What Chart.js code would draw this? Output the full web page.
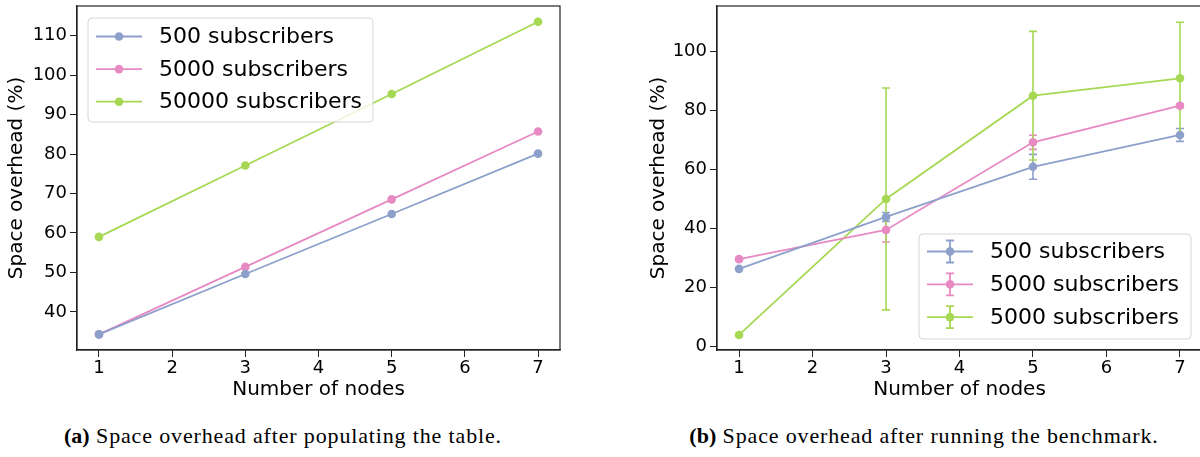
<!DOCTYPE html>
<html lang="en">
<head>
  <meta charset="UTF-8">
  <title>Space overhead</title>
  <script src="https://cdn.jsdelivr.net/npm/chart.js"></script>
  <style>
    body {
      margin: 0;
      width: 1200px;
      height: 457px;
      overflow: hidden;
      background: #fff;
      position: relative;
      font-family: 'DejaVu Sans', sans-serif;
    }
    .panel { position: absolute; top: 0; height: 410px; }
    #left { left: 0; width: 580px; }
    #right { left: 642px; width: 578px; }
    .caption {
      position: absolute;
      top: 423px;
      width: 600px;
      text-align: center;
      font-family: 'Liberation Serif', serif;
      font-size: 22px;
      letter-spacing: 0.85px;
      color: #000;
      white-space: nowrap;
    }
    .caption b { font-weight: bold; letter-spacing: 0; }
  </style>
</head>
<body>
  <div class="panel" id="left"><canvas id="popChart" width="580" height="410"></canvas></div>
  <div class="panel" id="right"><canvas id="benchChart" width="578" height="410"></canvas></div>
  <div class="caption" style="left:-17px"><b>(a)</b> Space overhead after populating the table.</div>
  <div class="caption" style="left:624px"><b>(b)</b> Space overhead after running the benchmark.</div>

  <script>
    // x values (number of nodes)
    const nodes = [1, 3, 5, 7];
    const xTicks = [1, 2, 3, 4, 5, 6, 7];

    // (a) after populating the table
    const popLabels = ['500 subscribers', '5000 subscribers', '50000 subscribers'];
    const pop500 = [34.3, 49.6, 64.8, 80.1];
    const pop5000 = [34.3, 51.4, 68.5, 85.7];
    const pop50000 = [59.0, 77.1, 95.2, 113.5];

    // (b) after running the benchmark (mean + error)
    const benchLabels = ['500 subscribers', '5000 subscribers', '5000 subscribers'];
    const bench500 = [26.4, 44.0, 61.0, 71.8];
    const bench500Err = [0.4, 1.5, 4.2, 2.2];
    const bench5000 = [29.7, 39.6, 69.3, 81.7];
    const bench5000Err = [0.5, 4.1, 2.4, 0.6];
    const bench50000 = [4.0, 50.1, 85.1, 91.0];
    const bench50000Err = [0.3, 37.6, 21.8, 19.0];

    const popTicks = [40, 50, 60, 70, 80, 90, 100, 110];
    const benchTicks = [0, 20, 40, 60, 80, 100];

    const colors = ['#8da0cb', '#e78ac3', '#a6d854'];

    const toPoints = arr => nodes.map((n, i) => ({ x: n, y: arr[i] }));

    function makeDataset(label, arr, color, errors) {
      return {
        label: label,
        data: toPoints(arr),
        errors: errors,
        borderColor: color,
        backgroundColor: color,
        borderWidth: 1.8,
        pointRadius: 4.3,
        pointHoverRadius: 4.3,
        pointBorderWidth: 0,
        tension: 0
      };
    }

    // draws the box round the plot area
    const frame = {
      id: 'frame',
      afterDatasetsDraw(chart) {
        const { ctx, chartArea: a } = chart;
        ctx.save();
        ctx.strokeStyle = '#222';
        ctx.lineWidth = 1.2;
        ctx.strokeRect(a.left, a.top, a.right - a.left, a.bottom - a.top);
        ctx.restore();
      }
    };

    // vertical error bars with caps, under the lines
    const errorBars = {
      id: 'errorBars',
      beforeDatasetsDraw(chart) {
        const { ctx, scales: { x, y } } = chart;
        chart.data.datasets.forEach(ds => {
          if (!ds.errors) return;
          ctx.save();
          ctx.strokeStyle = ds.borderColor;
          ctx.lineWidth = 1.6;
          ds.data.forEach((p, i) => {
            const e = ds.errors[i];
            const px = x.getPixelForValue(p.x);
            const top = y.getPixelForValue(p.y + e);
            const bot = y.getPixelForValue(p.y - e);
            ctx.beginPath();
            ctx.moveTo(px, top); ctx.lineTo(px, bot);
            ctx.moveTo(px - 4, top); ctx.lineTo(px + 4, top);
            ctx.moveTo(px - 4, bot); ctx.lineTo(px + 4, bot);
            ctx.stroke();
          });
          ctx.restore();
        });
      }
    };

    // matplotlib-like legend box inside the axes
    const boxLegend = {
      id: 'boxLegend',
      afterDatasetsDraw(chart, args, opts) {
        const { ctx } = chart;
        const { left, top, width, height, firstRow, rowGap, errorbar } = opts;
        ctx.save();
        ctx.beginPath();
        ctx.roundRect(left, top, width, height, 4);
        ctx.fillStyle = 'rgba(255,255,255,0.8)';
        ctx.fill();
        ctx.strokeStyle = '#d6d6d6';
        ctx.lineWidth = 1;
        ctx.stroke();
        ctx.font = '22px "DejaVu Sans"';
        ctx.textBaseline = 'middle';
        chart.data.datasets.forEach((ds, i) => {
          const cy = top + firstRow + i * rowGap;
          const x0 = left + 8;
          const x1 = left + 54;
          const cx = (x0 + x1) / 2;
          ctx.strokeStyle = ds.borderColor;
          ctx.lineWidth = 1.8;
          ctx.beginPath();
          ctx.moveTo(x0, cy); ctx.lineTo(x1, cy);
          if (errorbar) {
            ctx.moveTo(cx, cy - 11); ctx.lineTo(cx, cy + 11);
            ctx.moveTo(cx - 4, cy - 11); ctx.lineTo(cx + 4, cy - 11);
            ctx.moveTo(cx - 4, cy + 11); ctx.lineTo(cx + 4, cy + 11);
          }
          ctx.stroke();
          ctx.fillStyle = ds.backgroundColor;
          ctx.beginPath();
          ctx.arc(cx, cy, 4.3, 0, Math.PI * 2);
          ctx.fill();
          ctx.fillStyle = '#000';
          ctx.fillText(ds.label, left + 71, cy + 1);
        });
        ctx.restore();
      }
    };

    function makeOptions(yMin, yMax, yTicks, yWidth, rightPad, titlePad, legend) {
      return {
        responsive: false,
        animation: false,
        layout: { padding: { top: 6, right: rightPad, bottom: 0, left: 0 } },
        plugins: {
          legend: { display: false },
          tooltip: { enabled: false },
          boxLegend: legend
        },
        scales: {
          x: {
            type: 'linear',
            min: 0.7,
            max: 7.3,
            afterFit: s => { s.height = 60; s.paddingLeft = 0; s.paddingRight = 0; },
            afterBuildTicks: s => { s.ticks = xTicks.map(v => ({ value: v })); },
            grid: { drawOnChartArea: false, drawTicks: true, tickLength: 7, color: '#222' },
            border: { display: true, color: '#222', width: 1.2 },
            ticks: {
              color: '#000',
              padding: 1,
              maxRotation: 0,
              font: { family: 'DejaVu Sans', size: 18 }
            },
            title: {
              display: true,
              text: 'Number of nodes',
              color: '#000',
              padding: { top: 0, bottom: 8 },
              font: { family: 'DejaVu Sans', size: 20 }
            }
          },
          y: {
            type: 'linear',
            min: yMin,
            max: yMax,
            afterFit: s => { s.width = yWidth; s.paddingTop = 0; s.paddingBottom = 0; },
            afterBuildTicks: s => { s.ticks = yTicks.map(v => ({ value: v })); },
            grid: { drawOnChartArea: false, drawTicks: true, tickLength: 7, color: '#222' },
            border: { display: true, color: '#222', width: 1.2 },
            ticks: {
              color: '#000',
              padding: 3,
              font: { family: 'DejaVu Sans', size: 18 }
            },
            title: {
              display: true,
              text: 'Space overhead (%)',
              color: '#000',
              padding: { top: titlePad, bottom: 0 },
              font: { family: 'DejaVu Sans', size: 20 }
            }
          }
        }
      };
    }

    new Chart(document.getElementById('popChart'), {
      type: 'line',
      data: {
        datasets: [
          makeDataset(popLabels[0], pop500, colors[0]),
          makeDataset(popLabels[1], pop5000, colors[1]),
          makeDataset(popLabels[2], pop50000, colors[2])
        ]
      },
      options: makeOptions(30.35, 117.5, popTicks, 77, 20, 5,
        { left: 88, top: 18, width: 285, height: 104, firstRow: 18.5, rowGap: 32.6, errorbar: false }),
      plugins: [frame, boxLegend]
    });

    new Chart(document.getElementById('benchChart'), {
      type: 'line',
      data: {
        datasets: [
          makeDataset(benchLabels[0], bench500, colors[0], bench500Err),
          makeDataset(benchLabels[1], bench5000, colors[1], bench5000Err),
          makeDataset(benchLabels[2], bench50000, colors[2], bench50000Err)
        ]
      },
      options: makeOptions(-1.1, 115.5, benchTicks, 75, 18, 5,
        { left: 277, top: 234, width: 272, height: 105, firstRow: 17.5, rowGap: 32.8, errorbar: true }),
      plugins: [frame, errorBars, boxLegend]
    });
  </script>
</body>
</html>
